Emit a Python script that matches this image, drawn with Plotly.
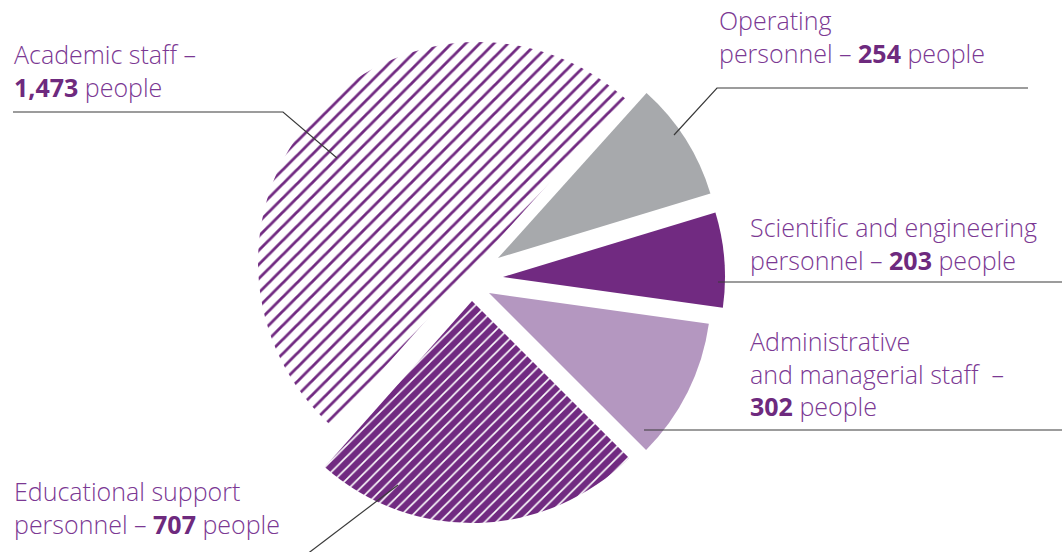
import plotly.graph_objects as go

# ---- data (chart order, clockwise from upper right) ----
categories = ["Operating personnel", "Scientific and engineering personnel",
              "Administrative and managerial staff", "Educational support personnel",
              "Academic staff"]
values = [254, 203, 302, 707, 1473]

W, H = 1062, 552
PURPLE = "#712a81"
GRAY = "#a7a9ac"
LILAC = "#b497c0"
TXT = "#7b3893"
NUM = "#6e2a7e"
FONT = "Open Sans"
FS = 25

# styling per slice
slice_colors = [GRAY, PURPLE, LILAC, PURPLE, "white"]
pat_shape = ["", "", "", "/", "/"]
pat_fg = [GRAY, PURPLE, LILAC, "white", PURPLE]
pat_bg = [GRAY, PURPLE, LILAC, PURPLE, "white"]
pat_size = [8, 8, 8, 8, 10]
pat_solid = [0.2, 0.2, 0.2, 0.2, 0.28]

# exploded position of each slice (apex in px) and radius (layout only)
slice_center = [(498, 258), (503, 277), (489, 293), (472, 301), (478, 262)]
slice_radius = [222, 222, 222, 222, 220]


def px(x):
    return x / W


def py(y):
    return 1 - y / H


def num(v):
    return f"<b><span style='color:{NUM}'>{v:,}</span></b>"


label_text = [
    f"Operating<br>personnel – {num(values[0])} people",
    f"Scientific and engineering<br>personnel – {num(values[1])} people",
    f"Administrative<br>and managerial staff  –<br>{num(values[2])} people",
    f"Educational support<br>personnel – {num(values[3])} people",
    f"Academic staff –<br>{num(values[4])} people",
]
# label placement: (x_left, mean baseline y) in px
label_pos = [(718, 46.5), (749, 253.5), (749, 383.7), (13, 517.5), (13, 80)]

fig = go.Figure()
n = len(values)
for i in range(n):
    cx, cy = slice_center[i]
    r = slice_radius[i]
    colors = [slice_colors[k] if k == i else "rgba(0,0,0,0)" for k in range(n)]
    shapes = [pat_shape[k] if k == i else "" for k in range(n)]
    fig.add_trace(go.Pie(
        labels=categories,
        values=values,
        sort=False,
        direction="clockwise",
        rotation=42,
        textinfo="none",
        hoverinfo="label+value",
        showlegend=False,
        domain=dict(x=[px(cx - r), px(cx + r)], y=[py(cy + r), py(cy - r)]),
        marker=dict(
            colors=colors,
            line=dict(width=0, color="white"),
            pattern=dict(
                shape=shapes,
                fgcolor=[pat_fg[k] if k == i else "rgba(0,0,0,0)" for k in range(n)],
                bgcolor=[pat_bg[k] if k == i else "rgba(0,0,0,0)" for k in range(n)],
                size=pat_size,
                solidity=pat_solid,
            ),
        ),
    ))

for (x, mb), t in zip(label_pos, label_text):
    fig.add_annotation(
        x=px(x), y=py(mb - 0.39 * FS), xref="paper", yref="paper",
        xanchor="left", yanchor="middle", showarrow=False, align="left",
        text=t, font=dict(family=FONT, size=FS, color=TXT, weight=300),
        borderpad=0,
    )

# leader lines
leaders = [
    [(13, 112), (283, 112), (337, 158)],
    [(1028, 88), (717, 88), (674, 135)],
    [(718, 282), (1062, 282)],
    [(644, 430), (1062, 430)],
    [(398, 485), (298, 561)],
]
for pts in leaders:
    path = "M " + " L ".join(f"{px(a):.5f},{py(b):.5f}" for a, b in pts)
    fig.add_shape(type="path", path=path, xref="paper", yref="paper",
                  line=dict(color="#3a3a3a", width=1.2))

fig.update_layout(
    width=W, height=H,
    margin=dict(l=0, r=0, t=0, b=0),
    paper_bgcolor="white", plot_bgcolor="white",
)
fig.write_html("out.html", config={"displayModeBar": False},
               post_script="document.body.style.margin='0';")
